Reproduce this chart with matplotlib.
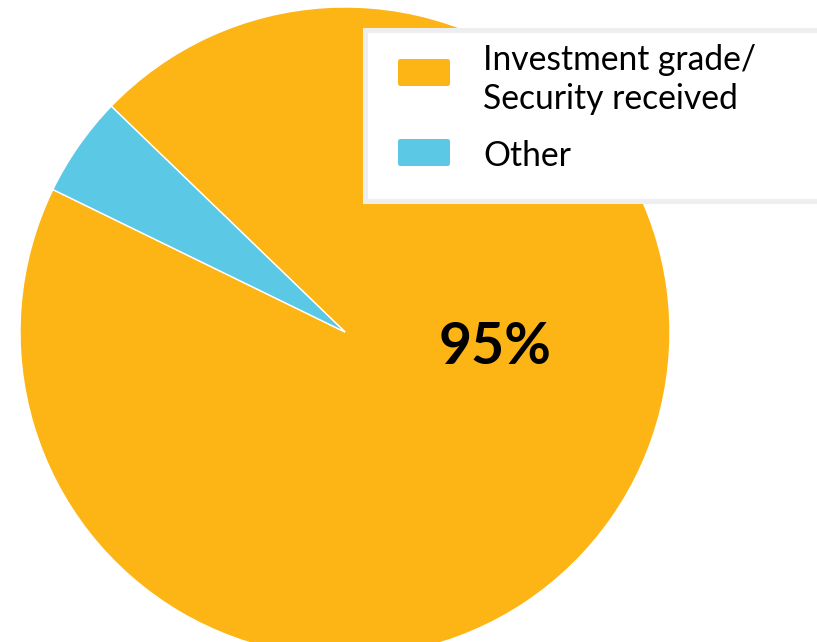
import matplotlib.pyplot as plt
from matplotlib.patches import Rectangle, FancyBboxPatch

# dati
labels = ['Investment grade/\nSecurity received', 'Other']
values = [95, 5]
colors = ['#FDB515', '#5BC8E6']
pct_label = '95%'

plt.rcParams['font.family'] = ['Lato', 'DejaVu Sans']

W, H = 817, 642
fig = plt.figure(figsize=(W / 100, H / 100), dpi=100)
ax = fig.add_axes([0, 0, 1, 1])

# centro e raggio della torta in pixel
cx, cy, r = 345, 332, 325

wedges, _ = ax.pie(values, colors=colors, startangle=154, counterclock=True,
                   radius=1, wedgeprops=dict(edgecolor='white', linewidth=1))
ax.set_xlim(-cx / r, (W - cx) / r)
ax.set_ylim(-(H - cy) / r, cy / r)
ax.set_aspect('equal')
ax.axis('off')

ax.text(0.462, -0.049, pct_label, ha='center', va='center',
        fontsize=41, fontweight='bold', color='black')

# legenda disegnata a mano (coordinate in pixel, origine in alto a sinistra)
inch = fig.dpi_scale_trans


def px(x, y):
    return x / 100, (H - y) / 100


box = Rectangle(px(364.5, 200.5), (W + 20 - 364.5) / 100, (200.5 - 29.5) / 100,
                transform=inch, facecolor='white', edgecolor='#ECEEEF',
                linewidth=3.6, zorder=5)
fig.patches.append(box)

handle_tops = [59, 139]
line_baselines = [[70, 109], [166]]
for lab, col, top, bases in zip(labels, colors, handle_tops, line_baselines):
    p = FancyBboxPatch(px(398, top + 27), 0.52, 0.27,
                       boxstyle='round,pad=0,rounding_size=0.025',
                       transform=inch, facecolor=col, edgecolor='none', zorder=6)
    fig.patches.append(p)
    for line, b in zip(lab.split('\n'), bases):
        fig.text(483 / W, 1 - b / H, line, ha='left', va='baseline',
                 fontsize=24.2, color='black', zorder=7)

plt.savefig('out.png', dpi=100)
